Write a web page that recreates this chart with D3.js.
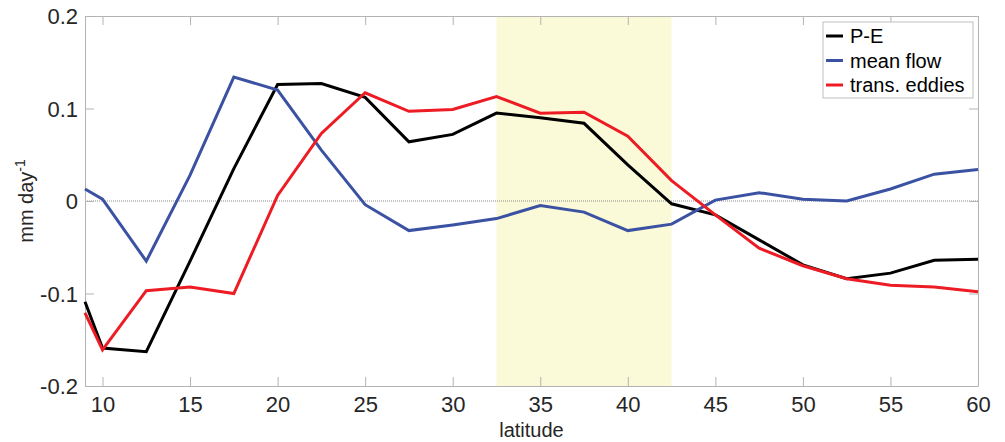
<!DOCTYPE html>
<html>
<head>
<meta charset="utf-8">
<script src="https://cdn.jsdelivr.net/npm/d3@7"></script>
<style>
  body { margin: 0; background: #fff; }
  svg { display: block; font-family: "Liberation Sans", Arial, Helvetica, sans-serif; }
</style>
</head>
<body>
<svg id="chart1"></svg>
<script>
let w = 1005;
let h = 442;

// latitude of each sample
const lats = [9, 10, 12.5, 15, 17.5, 20, 22.5, 25, 27.5, 30, 32.5, 35, 37.5, 40, 42.5, 45, 47.5, 50, 52.5, 55, 57.5, 60];
const pe = [-0.109, -0.159, -0.163, -0.065, 0.035, 0.126, 0.127, 0.112, 0.064, 0.072, 0.095, 0.090, 0.084, 0.039, -0.003, -0.015, -0.042, -0.069, -0.084, -0.078, -0.064, -0.063];
const meanFlow = [0.013, 0.002, -0.065, 0.028, 0.134, 0.120, 0.055, -0.004, -0.032, -0.026, -0.019, -0.005, -0.012, -0.032, -0.025, 0.001, 0.009, 0.002, 0.000, 0.013, 0.029, 0.034];
const transEddies = [-0.121, -0.161, -0.097, -0.093, -0.100, 0.006, 0.073, 0.117, 0.097, 0.099, 0.113, 0.095, 0.096, 0.070, 0.022, -0.015, -0.051, -0.070, -0.084, -0.091, -0.093, -0.098];

const seriesNames = ['P-E', 'mean flow', 'trans. eddies'];
const seriesColors = ['#000000', '#3b52a3', '#ed1c24'];
const shadeBand = [32.5, 42.5];
const xTicks = [10, 15, 20, 25, 30, 35, 40, 45, 50, 55, 60];
const yTicks = [-0.2, -0.1, 0, 0.1, 0.2];

const mLeft = 85, mRight = 978, mTop = 16, mBottom = 386;
const axisColor = '#b3b3b3';
const textColor = '#262626';

const svg = d3.select('#chart1')
  .attr('width', w)
  .attr('height', h);

const xScale = d3.scaleLinear().domain([9, 60]).range([mLeft, mRight]);
const yScale = d3.scaleLinear().domain([-0.2, 0.2]).range([mBottom, mTop]);

// shaded latitude band
svg.append('rect')
  .attr('x', xScale(shadeBand[0]))
  .attr('y', mTop)
  .attr('width', xScale(shadeBand[1]) - xScale(shadeBand[0]))
  .attr('height', mBottom - mTop)
  .attr('fill', '#fafad9');

// zero line
svg.append('line')
  .attr('x1', mLeft).attr('x2', mRight)
  .attr('y1', yScale(0)).attr('y2', yScale(0))
  .attr('stroke', '#8c8c8c')
  .attr('stroke-width', 1)
  .attr('stroke-dasharray', '1,1');

// axes (ticks inward, mirrored on all sides)
const fmtY = d => d === 0 ? '0' : d3.format('.1f')(d).replace('−', '-');

const xAxis = d3.axisBottom(xScale).tickValues(xTicks).tickSizeInner(-9).tickSizeOuter(0).tickPadding(10);
const yAxis = d3.axisLeft(yScale).tickValues(yTicks).tickSizeInner(-9).tickSizeOuter(0).tickPadding(7).tickFormat(fmtY);
const xTop = d3.axisTop(xScale).tickValues(xTicks).tickSizeInner(-9).tickSizeOuter(0).tickFormat('');
const yRight = d3.axisRight(yScale).tickValues(yTicks).tickSizeInner(-9).tickSizeOuter(0).tickFormat('');

function styleAxis(g) {
  g.select('.domain').attr('stroke', axisColor);
  g.selectAll('.tick line').attr('stroke', axisColor);
  g.selectAll('.tick text')
    .attr('fill', textColor)
    .style('font-size', '22px')
    .style('font-family', '"Liberation Sans", Arial, Helvetica, sans-serif');
}

svg.append('g').attr('transform', `translate(0,${mBottom})`).call(xAxis).call(styleAxis);
svg.append('g').attr('transform', `translate(${mLeft},0)`).call(yAxis).call(styleAxis)
  .selectAll('.tick text').attr('dy', '0.35em');
svg.append('g').attr('transform', `translate(0,${mTop})`).call(xTop).call(styleAxis);
svg.append('g').attr('transform', `translate(${mRight},0)`).call(yRight).call(styleAxis);

// lines
const allSeries = [pe, meanFlow, transEddies];
const lineFunction = d3.line()
  .x((d, i) => xScale(lats[i]))
  .y(d => yScale(d));

svg.selectAll('path.series')
  .data(allSeries)
  .enter()
  .append('path')
  .attr('class', 'series')
  .attr('d', d => lineFunction(d))
  .attr('fill', 'none')
  .attr('stroke', (d, i) => seriesColors[i])
  .attr('stroke-width', 3)
  .attr('stroke-linejoin', 'miter');

// axis labels
svg.append('text')
  .attr('x', (mLeft + mRight) / 2)
  .attr('y', 437)
  .attr('text-anchor', 'middle')
  .attr('fill', textColor)
  .style('font-size', '20px')
  .text('latitude');

const yLab = svg.append('text')
  .attr('transform', `translate(33,${yScale(0)}) rotate(-90)`)
  .attr('text-anchor', 'middle')
  .attr('fill', textColor)
  .style('font-size', '20px');
yLab.append('tspan').text('mm day');
yLab.append('tspan').attr('dy', '-0.55em').style('font-size', '14px').text('-1');

// legend
const lg = svg.append('g').attr('transform', 'translate(823,22)');
lg.append('rect')
  .attr('width', 150).attr('height', 76)
  .attr('fill', '#fff')
  .attr('stroke', '#bfbfbf')
  .attr('stroke-width', 1);
seriesNames.forEach((name, i) => {
  const yy = 14 + i * 24.5;
  lg.append('line')
    .attr('x1', 3).attr('x2', 20)
    .attr('y1', yy).attr('y2', yy)
    .attr('stroke', seriesColors[i])
    .attr('stroke-width', 3);
  lg.append('text')
    .attr('x', 27).attr('y', yy)
    .attr('dy', '0.35em')
    .attr('fill', '#000')
    .style('font-size', '20px')
    .text(name);
});
</script>
</body>
</html>
